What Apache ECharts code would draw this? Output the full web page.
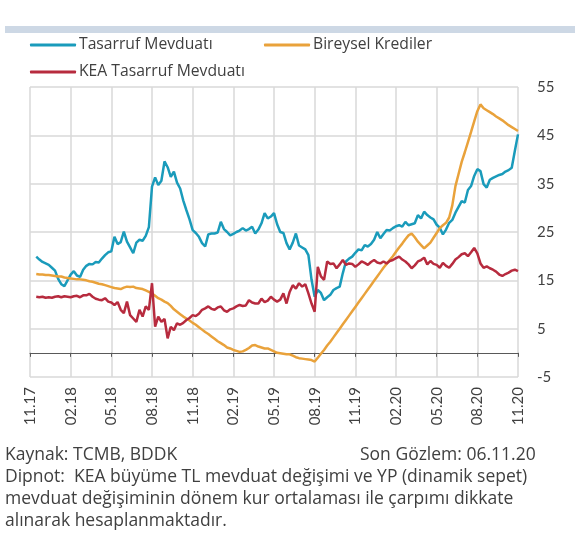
<!DOCTYPE html>
<html>
<head>
<meta charset="utf-8">
<script src="https://cdn.jsdelivr.net/npm/echarts@6/dist/echarts.min.js"></script>
<style>
  html, body { margin: 0; padding: 0; background: #fff; }
  #main { width: 575px; height: 536px; }
</style>
</head>
<body>
<div id="main"></div>
<script>
// haftalik veriler, 11.17 - 06.11.20 (ilk veri 3. haftadan basliyor)
const startWeek = 2
const xTicks = ['11.17', '02.18', '05.18', '08.18', '11.18', '02.19', '05.19', '08.19', '11.19', '02.20', '05.20', '08.20', '11.20']

const tasarruf = [
  19.9, 19.3, 18.8, 18.5, 18.2, 17.6, 17.0, 15.3, 14.2, 13.8, 15.0, 16.2, 16.9, 16.0, 15.7, 17.2, 18.0, 18.4, 18.3, 18.8,
  18.7, 19.5, 20.2, 20.8, 21.0, 24.0, 22.5, 22.9, 25.1, 23.0, 21.8, 20.6, 22.8, 23.4, 23.2, 24.2, 26.0, 34.4, 36.3, 34.7,
  35.6, 39.6, 38.4, 36.4, 37.5, 35.2, 34.0, 31.5, 29.5, 27.6, 25.4, 24.8, 24.0, 22.7, 22.0, 24.5, 24.7, 24.7, 24.9, 27.1,
  25.6, 25.0, 24.3, 24.6, 25.0, 25.3, 25.8, 25.3, 25.6, 26.1, 24.7, 25.5, 26.8, 28.9, 27.8, 28.2, 28.9, 26.6, 25.0, 24.8,
  22.7, 21.4, 22.8, 24.7, 22.2, 21.8, 21.4, 20.2, 15.1, 11.6, 13.0, 12.4, 10.9, 11.5, 12.0, 13.0, 13.4, 13.7, 16.5, 18.9,
  19.5, 19.9, 20.7, 21.4, 21.2, 22.3, 22.0, 22.5, 23.4, 25.0, 23.7, 24.6, 25.4, 25.3, 25.8, 26.2, 26.4, 26.1, 27.1, 26.4,
  26.6, 26.8, 28.5, 27.8, 29.2, 28.5, 28.0, 27.6, 26.5, 25.9, 24.5, 25.5, 26.9, 27.5, 29.0, 30.2, 31.4, 31.1, 33.7, 34.5,
  36.6, 38.0, 37.6, 34.9, 34.2, 35.8, 36.2, 36.5, 36.8, 37.0, 37.5, 37.8, 38.3, 41.8, 45.2
]

const krediler = [
  16.3, 16.2, 16.2, 16.1, 16.1, 16.0, 15.9, 15.8, 15.8, 15.6, 15.5, 15.4, 15.3, 15.2, 15.2, 15.1, 15.0, 14.8, 14.7, 14.5,
  14.3, 14.2, 14.0, 13.8, 13.6, 13.4, 13.3, 13.2, 13.5, 13.7, 13.6, 13.7, 13.4, 13.3, 13.2, 12.9, 12.6, 12.3, 11.8, 11.3,
  11.0, 10.6, 10.3, 9.7, 9.0, 8.5, 8.0, 7.5, 7.1, 6.7, 6.2, 5.8, 5.3, 4.8, 4.3, 3.9, 3.4, 2.9, 2.4, 2.0,
  1.6, 1.1, 0.9, 0.6, 0.4, 0.2, 0.3, 0.6, 1.0, 1.5, 1.6, 1.3, 1.1, 0.9, 0.9, 0.6, 0.3, 0.0, -0.1, -0.2,
  -0.3, -0.3, -0.6, -0.9, -1.1, -1.2, -1.3, -1.4, -1.5, -1.8, -1.0, -0.2, 0.6, 1.5, 2.3, 3.2, 4.1, 5.0, 5.9, 6.8,
  7.7, 8.6, 9.5, 10.4, 11.3, 12.2, 13.1, 14.0, 14.9, 15.8, 16.7, 17.6, 18.4, 19.2, 20.0, 20.9, 21.8, 22.6, 23.5, 24.3,
  24.7, 23.9, 23.0, 22.3, 21.6, 22.2, 22.8, 23.8, 24.8, 25.8, 26.4, 26.9, 28.0, 30.5, 34.5, 37.0, 39.5, 41.5, 43.6, 45.7,
  47.9, 50.0, 51.4, 50.6, 50.2, 49.8, 49.4, 48.9, 48.5, 48.1, 47.6, 47.1, 46.7, 46.3, 45.9
]

const keaTasarruf = [
  11.6, 11.5, 11.6, 11.4, 11.5, 11.4, 11.6, 11.7, 11.5, 11.7, 11.6, 11.5, 11.7, 11.8, 11.5, 11.9, 11.9, 12.2, 11.6, 11.2,
  11.0, 10.9, 11.3, 10.6, 10.4, 9.9, 10.5, 8.9, 8.2, 10.6, 7.8, 7.1, 6.4, 8.9, 7.5, 9.6, 8.9, 14.4, 5.4, 7.5,
  6.4, 7.0, 3.0, 5.4, 4.7, 6.1, 5.8, 6.2, 6.8, 7.2, 7.8, 7.6, 8.1, 8.9, 9.2, 9.6, 9.1, 8.9, 9.4, 9.6,
  8.8, 8.5, 9.0, 9.2, 9.6, 9.9, 9.7, 9.8, 10.9, 10.4, 10.2, 10.2, 11.2, 10.5, 10.8, 11.6, 11.0, 10.6, 11.0, 12.3,
  10.2, 12.6, 14.0, 13.3, 14.4, 13.7, 14.2, 12.3, 10.2, 8.5, 17.8, 15.8, 15.1, 18.9, 18.4, 18.5, 17.5, 18.3, 19.2, 18.2,
  18.5, 18.4, 17.8, 18.3, 18.9, 18.6, 18.2, 18.8, 19.2, 18.7, 18.5, 18.9, 18.5, 19.0, 19.2, 19.6, 19.9, 19.3, 18.9, 18.3,
  17.5, 18.1, 18.9, 19.2, 19.7, 18.3, 19.0, 18.4, 18.2, 17.6, 18.6, 18.0, 17.6, 18.4, 19.3, 19.8, 20.4, 20.6, 20.0, 20.8,
  21.7, 20.6, 18.5, 17.6, 17.9, 17.5, 17.2, 16.8, 16.2, 15.9, 16.3, 16.6, 17.0, 17.2, 16.9
]

const toPairs = arr => arr.map((v, i) => [i + startWeek, v])
const lastWeek = (xTicks.length - 1) * 13
const textColor = '#404040'
const noteFont = '17.5px "Open Sans"'

const myChart = echarts.init(document.getElementById('main'))

const legendBase = {
  itemWidth: 46,
  itemHeight: 3,
  itemGap: 0,
  icon: 'roundRect',
  textStyle: { fontFamily: 'Open Sans', fontSize: 15.7, color: textColor, padding: [0, 0, 0, -2] },
  padding: 0
}

myChart.setOption({
  animation: false,
  grid: { left: 30, right: 57, top: 87, bottom: 159 },
  legend: [
    Object.assign({}, legendBase, { data: ['Tasarruf Mevduatı'], left: 30, top: 37 }),
    Object.assign({}, legendBase, { data: ['Bireysel Krediler'], left: 264, top: 37 }),
    Object.assign({}, legendBase, { data: ['KEA Tasarruf Mevduatı'], left: 30, top: 64 })
  ],
  xAxis: [
    {
      type: 'value',
      min: 0,
      max: lastWeek,
      interval: 13,
      axisLine: { show: false, onZero: false },
      axisTick: { show: false },
      axisLabel: {
        rotate: 90,
        margin: 10,
        fontFamily: 'Lato',
        fontSize: 15,
        color: textColor,
        formatter: v => xTicks[Math.round(v / 13)]
      },
      splitLine: { show: true, lineStyle: { color: '#d9d9d9', width: 1.5 } }
    },
    {
      type: 'value',
      position: 'bottom',
      min: 0,
      max: lastWeek,
      interval: 13,
      axisLine: { show: true, onZero: true, lineStyle: { color: '#595959', width: 1 } },
      axisTick: { show: true, length: 4, lineStyle: { color: '#595959' } },
      axisLabel: { show: false },
      splitLine: { show: false }
    }
  ],
  yAxis: {
    type: 'value',
    position: 'right',
    min: -5,
    max: 55,
    interval: 10,
    axisLine: { show: false },
    axisTick: { show: false },
    axisLabel: { margin: 19, fontFamily: 'Lato', fontSize: 15, color: textColor },
    splitLine: { lineStyle: { color: '#d9d9d9', width: 1.5 } }
  },
  graphic: [
    { type: 'rect', shape: { x: 5, y: 26, width: 570, height: 7 }, style: { fill: '#cdd8e5' } },
    { type: 'text', left: 5, top: 446, style: { text: 'Kaynak: TCMB, BDDK', font: noteFont, fill: textColor } },
    { type: 'text', left: 360, top: 446, style: { text: 'Son Gözlem: 06.11.20', font: noteFont, fill: textColor } },
    { type: 'text', left: 5, top: 468, style: { text: 'Dipnot:  KEA büyüme TL mevduat değişimi ve YP (dinamik sepet)', font: noteFont, fill: textColor } },
    { type: 'text', left: 5, top: 490, style: { text: 'mevduat değişiminin dönem kur ortalaması ile çarpımı dikkate', font: noteFont, fill: textColor } },
    { type: 'text', left: 5, top: 512, style: { text: 'alınarak hesaplanmaktadır.', font: noteFont, fill: textColor } }
  ],
  series: [
    {
      name: 'Tasarruf Mevduatı',
      type: 'line',
      showSymbol: false,
      data: toPairs(tasarruf),
      color: '#1a9bbb',
      lineStyle: { width: 2.5 }
    },
    {
      name: 'Bireysel Krediler',
      type: 'line',
      showSymbol: false,
      data: toPairs(krediler),
      color: '#e9a23b',
      lineStyle: { width: 2.5 }
    },
    {
      name: 'KEA Tasarruf Mevduatı',
      type: 'line',
      showSymbol: false,
      data: toPairs(keaTasarruf),
      color: '#b72b3e',
      lineStyle: { width: 2.5 }
    }
  ]
})
</script>
</body>
</html>
